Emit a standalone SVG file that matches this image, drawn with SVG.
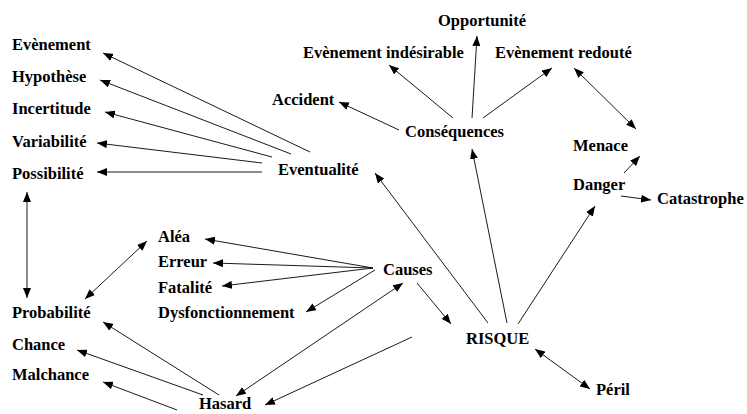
<svg xmlns="http://www.w3.org/2000/svg" width="747" height="414" viewBox="0 0 747 414">
<style>
.t text{font-weight:bold;font-size:16.5px;fill:#000}
.c line{stroke:#000;stroke-width:0.9;fill:none}
.a{marker-end:url(#ah)}
.b{marker-end:url(#ah);marker-start:url(#ah)}
</style>
<defs>
<marker id="ah" viewBox="0 0 10 8" refX="10" refY="4" markerWidth="10" markerHeight="8" markerUnits="userSpaceOnUse" orient="auto-start-reverse">
<path d="M0,0 L10,4 L0,8 z" fill="#000"/>
</marker>
</defs>
<rect width="747" height="414" fill="#fff"/>
<g id="connectors" class="c">
<line class="a" x1="310" y1="152" x2="103" y2="53"/>
<line class="a" x1="291" y1="154" x2="100" y2="80"/>
<line class="a" x1="272" y1="157" x2="105" y2="112"/>
<line class="a" x1="262" y1="163" x2="97" y2="143"/>
<line class="a" x1="262" y1="172" x2="97" y2="172"/>
<line class="b" x1="27" y1="192" x2="27" y2="298"/>
<line class="b" x1="85" y1="299" x2="147" y2="241"/>
<line class="a" x1="373" y1="268" x2="205" y2="239"/>
<line class="a" x1="373" y1="268" x2="213" y2="263"/>
<line class="a" x1="373" y1="268" x2="222" y2="286"/>
<line class="a" x1="375" y1="270" x2="306" y2="312"/>
<line class="b" x1="403" y1="283" x2="236" y2="396"/>
<line class="a" x1="417" y1="283" x2="451" y2="324"/>
<line class="a" x1="412" y1="337" x2="265" y2="405"/>
<line class="a" x1="219" y1="395" x2="103" y2="322"/>
<line class="a" x1="203" y1="395" x2="77" y2="350"/>
<line class="a" x1="177" y1="410" x2="103" y2="382"/>
<line class="a" x1="488" y1="323" x2="375" y2="173"/>
<line class="a" x1="507" y1="323" x2="472" y2="149"/>
<line class="a" x1="518" y1="324" x2="595" y2="206"/>
<line class="b" x1="535" y1="349" x2="590" y2="389"/>
<line class="a" x1="453" y1="118" x2="389" y2="65"/>
<line class="a" x1="472" y1="118" x2="477" y2="36"/>
<line class="a" x1="483" y1="118" x2="552" y2="68"/>
<line class="a" x1="399" y1="130" x2="339" y2="102"/>
<line class="b" x1="574" y1="68" x2="636" y2="129"/>
<line class="a" x1="624" y1="173" x2="640" y2="156"/>
<line class="a" x1="621" y1="196" x2="651" y2="200"/>
</g>
<g class="t" font-family="'Liberation Serif', 'DejaVu Serif', 'Times New Roman', serif">
<g id="evenement"><text x="12" y="50">Evènement</text></g>
<g id="hypothese"><text x="12" y="82">Hypothèse</text></g>
<g id="incertitude"><text x="12" y="114">Incertitude</text></g>
<g id="variabilite"><text x="12" y="147">Variabilité</text></g>
<g id="possibilite"><text x="12" y="179">Possibilité</text></g>
<g id="eventualite"><text x="278" y="175">Eventualité</text></g>
<g id="accident"><text x="272" y="105">Accident</text></g>
<g id="opportunite"><text x="438" y="26">Opportunité</text></g>
<g id="evenement-indesirable"><text x="303" y="58">Evènement indésirable</text></g>
<g id="evenement-redoute"><text x="495" y="58">Evènement redouté</text></g>
<g id="consequences"><text x="405" y="137">Conséquences</text></g>
<g id="menace"><text x="573" y="151">Menace</text></g>
<g id="danger"><text x="573" y="190">Danger</text></g>
<g id="catastrophe"><text x="657" y="204">Catastrophe</text></g>
<g id="alea"><text x="158" y="242">Aléa</text></g>
<g id="erreur"><text x="158" y="267">Erreur</text></g>
<g id="fatalite"><text x="158" y="293">Fatalité</text></g>
<g id="dysfonctionnement"><text x="158" y="318">Dysfonctionnement</text></g>
<g id="probabilite"><text x="12" y="318">Probabilité</text></g>
<g id="chance"><text x="12" y="350">Chance</text></g>
<g id="malchance"><text x="12" y="380">Malchance</text></g>
<g id="hasard"><text x="199" y="409">Hasard</text></g>
<g id="causes"><text x="383" y="275">Causes</text></g>
<g id="risque"><text x="466" y="344">RISQUE</text></g>
<g id="peril"><text x="596" y="395">Péril</text></g>
</g>
</svg>
